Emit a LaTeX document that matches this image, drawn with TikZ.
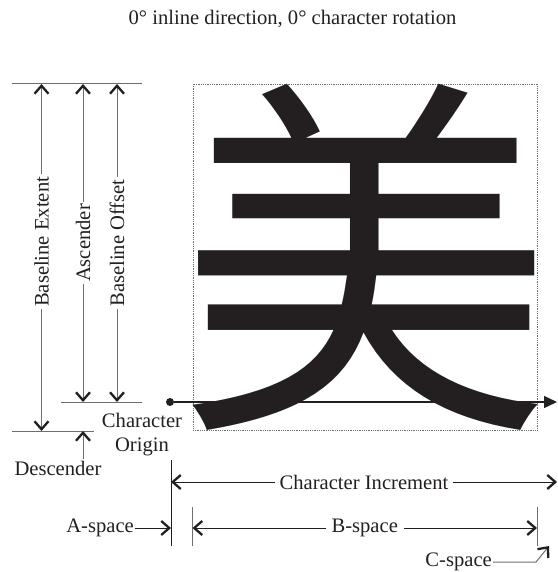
\documentclass[tikz,border=0pt]{standalone}
\usepackage{fontspec}
\setmainfont{Liberation Serif}
\newfontfamily\cjkfont{Noto Sans CJK SC}
\usetikzlibrary{arrows.meta,positioning}
\definecolor{ink}{HTML}{231F20}
\definecolor{rule}{HTML}{6D6E71}
\tikzset{
	barb/.tip={Straight Barb[length=8pt,width=14pt,line width=2.3pt,color=ink]},
	spike/.tip={Triangle[length=13pt,width=12pt]},
}
\tikzstyle{line} = [draw=rule, line width=1pt]
\tikzstyle{dim} = [line, barb-barb]

\begin{document}
\begin{tikzpicture}[
	x=1pt, y=-1pt,
	every node/.style={font=\fontsize{20.6}{24}\selectfont, text=ink, inner sep=1pt},
	cut/.style={
		fill=white,
		inner xsep=2.5pt,
		inner ysep=0pt,
	},
	glyphbox/.style={
		draw=rule,
		densely dotted,
		line width=0.8pt,
		minimum width=344.5pt,
		minimum height=346pt,
		inner sep=0pt,
	},
	glyph/.style={
		inner sep=0pt,
		font=\cjkfont\fontsize{376}{376}\selectfont,
	},
	dot/.style={
		circle,
		fill=ink,
		inner sep=0pt,
		minimum size=8pt,
	}
]
	\useasboundingbox (0,0) rectangle (557,572);

	\node (title) [anchor=base] at (292.5,25)
		{0° inline direction, 0° character rotation};

	% the em box and the character
	\node (emsquare) [glyphbox] at (365.25,257) {};
	\node (glyph) [glyph] at (emsquare.center) {美};

	% reference lines on the left
	\draw [line] (12,84) -- (142,84);
	\draw [line] (61,402) -- (142,402);
	\draw [line] (12,431) -- (94,431);

	\coordinate (ext1) at (41.5,84);
	\coordinate (ext2) at (41.5,431);
	\coordinate (asc1) at (83,84);
	\coordinate (asc2) at (83,402);
	\coordinate (off1) at (117,84);
	\coordinate (off2) at (117,402);

	\draw [dim] (ext1) -- node (extlbl) [cut,rotate=90,pos=.455] {Baseline Extent} (ext2);
	\draw [dim] (asc1) -- node (asclbl) [cut,rotate=90,pos=.5] {Ascender} (asc2);
	\draw [dim] (off1) -- node (offlbl) [cut,rotate=90,pos=.5] {Baseline Offset} (off2);

	\node (desclbl) [anchor=base] at (58,475) {Descender};
	\coordinate (desc1) at (83,459);
	\coordinate (desc2) at (83,431);
	\draw [line,-barb] (desc1) -- (desc2);

	% baseline
	\node (origin) [dot] at (170,402) {};
	\node (originlbl) [align=center] at (142,435) {Character\\Origin};
	\coordinate (baseend) at (557,402);
	\draw [draw=ink,line width=1.3pt,-spike] (origin) -- (baseend);

	% spacing along the inline direction
	\draw [draw=ink,line width=1pt] (171,460) -- (171,546);
	\draw [line] (192.5,507) -- (192.5,546);
	\draw [line] (537,507) -- (537,546);

	\coordinate (inc1) at (171,482);
	\coordinate (inc2) at (557,482);
	\draw [dim,draw=ink] (inc1) -- node (inclbl) [cut,inner xsep=5pt] {Character Increment} (inc2);

	\coordinate (bsp1) at (192.5,528);
	\coordinate (bsp2) at (537,528);
	\draw [dim,draw=ink] (bsp1) -- node (bsplbl) [cut,inner xsep=6pt] {B-space} (bsp2);

	\node (asplbl) [anchor=east] at (135,528) {A-space};
	\coordinate (aspend) at (171,528);
	\draw [line,draw=ink,-barb] (asplbl) -- (aspend);

	\node (csplbl) [anchor=east] at (493,562) {C-space};
	\coordinate (cspbend) at (536,562);
	\coordinate (csptip) at (549,546);
	\draw [line,-barb] (csplbl.east) -- (cspbend) -- (csptip);

\end{tikzpicture}
\end{document}
